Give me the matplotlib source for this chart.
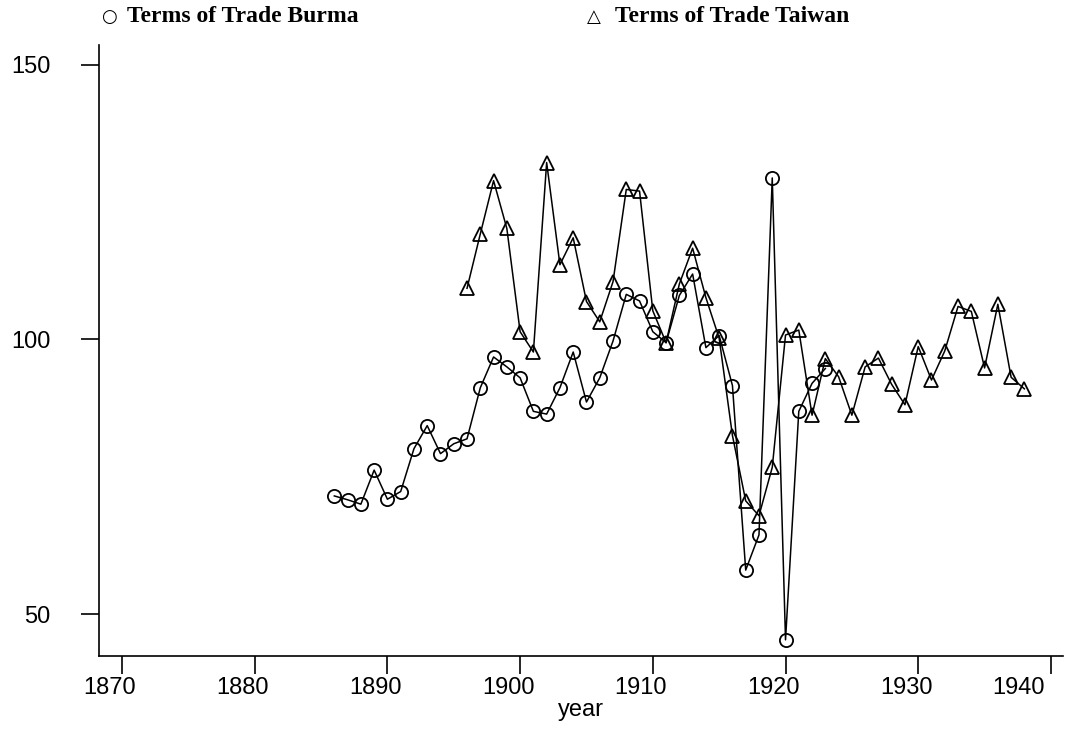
import matplotlib
matplotlib.use("Agg")
import matplotlib.pyplot as plt
from matplotlib.transforms import ScaledTranslation

# Burma terms of trade, 1886-1923
burma_years = list(range(1886, 1924))
burma_tot = [71.5, 70.8, 70.0, 76.2, 70.9, 72.3, 80.1, 84.3, 79.2, 81.0,
             81.9, 91.2, 96.8, 95.0, 93.0, 86.9, 86.4, 91.2, 97.7, 88.6,
             93.0, 99.7, 108.2, 107.0, 101.4, 99.4, 108.0, 111.9, 98.5, 100.7,
             91.6, 58.0, 64.4, 129.4, 45.3, 86.9, 92.0, 94.7]

# Taiwan terms of trade, 1896-1938
taiwan_years = list(range(1896, 1939))
taiwan_tot = [109.3, 119.2, 128.9, 120.2, 101.4, 97.7, 132.2, 113.6, 118.5, 106.9,
              103.2, 110.5, 127.3, 127.0, 105.2, 99.4, 110.1, 116.6, 107.6, 100.2,
              82.5, 70.6, 67.9, 76.7, 100.8, 101.7, 86.2, 96.5, 93.2, 86.2,
              95.0, 96.6, 91.8, 88.1, 98.7, 92.6, 97.9, 106.0, 105.1, 94.8,
              106.4, 93.1, 91.0]

xticks = list(range(1870, 1941, 10))
yticks = [50, 100, 150]

fig = plt.figure(figsize=(10.65, 7.33), dpi=100)
ax = fig.add_axes([0.093, 0.105, 0.905, 0.8336])

ax.plot(burma_years, burma_tot, color='black', lw=1.1, marker='o', ms=9.5,
        mfc='none', mec='black', mew=1.3)
ax.plot(taiwan_years, taiwan_tot, color='black', lw=1.1, marker='^', ms=9.5,
        mfc='none', mec='black', mew=1.3)

ax.set_xlim(1868.27, 1940.9)
ax.set_ylim(42.35, 153.6)
ax.set_xticks(xticks)
ax.set_yticks(yticks)

for s in ['top', 'right']:
    ax.spines[s].set_visible(False)
for s in ['left', 'bottom']:
    ax.spines[s].set_linewidth(1.2)

ax.tick_params(axis='both', direction='out', length=13, width=1.2,
               labelsize=17)
ax.tick_params(axis='y', pad=22)
ax.tick_params(axis='x', pad=2)
for lab in ax.get_xticklabels() + ax.get_yticklabels():
    lab.set_family('Liberation Sans')

# x tick labels sit a little left of their ticks in the original
for lab, yr in zip(ax.get_xticklabels(), xticks):
    dx = -32 if yr == 1940 else -12
    lab.set_transform(lab.get_transform() + ScaledTranslation(dx / 100, 0, fig.dpi_scale_trans))

ax.set_xlabel('year', fontsize=17, family='Liberation Sans', labelpad=0)

# legend text across the top
fig.text(0.1025, 0.977, '○', fontsize=13, family=['DejaVu Sans'], va='center', ha='center')
fig.text(0.119, 0.977, 'Terms of Trade Burma', fontsize=17, fontweight='bold',
         family='Liberation Serif', va='center')
fig.text(0.558, 0.977, '△', fontsize=13, family=['DejaVu Sans'], va='center', ha='center')
fig.text(0.5775, 0.977, 'Terms of Trade Taiwan', fontsize=17, fontweight='bold',
         family='Liberation Serif', va='center')

fig.savefig('out.png', dpi=100)
